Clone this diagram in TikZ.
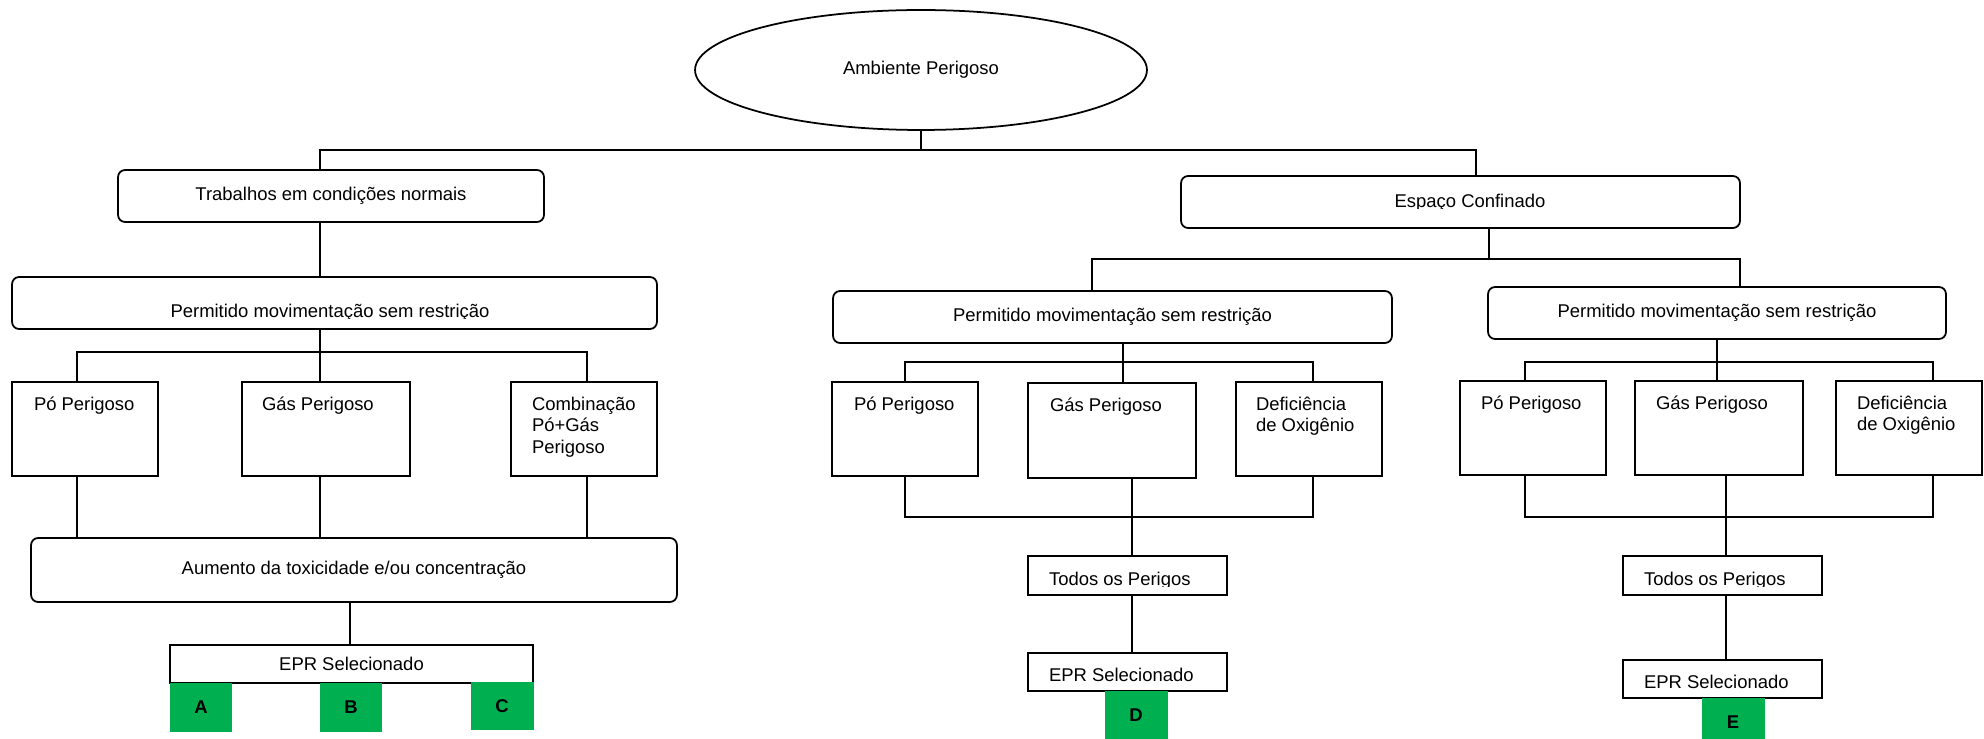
\documentclass[tikz,border=0pt]{standalone}
\usepackage{fontspec}
\setmainfont{Liberation Sans}
\usetikzlibrary{shapes.geometric}
\definecolor{epgreen}{RGB}{0,176,80}
\begin{document}
\begin{tikzpicture}[x=0.02cm,y=-0.02cm,line width=1pt,
  every node/.style={font=\fontsize{10.5}{12.2}\selectfont,inner sep=0pt,outer sep=0pt},
  rbox/.style 2 args={draw,rounded corners=4pt,minimum width=#1,minimum height=#2},
  sbox/.style 2 args={draw,minimum width=#1,minimum height=#2},
  hz/.style={anchor=north west,align=left},
  grn/.style={fill=epgreen,minimum width=1.26cm,minimum height=0.98cm,font=\fontsize{10.5}{12}\selectfont\bfseries}]
\clip (0,0) rectangle (1984,739);
% columns of the connectors
\coordinate (xL) at (320,0);  \coordinate (xLp) at (77,0);  \coordinate (xLc) at (587,0);
\coordinate (xLa) at (350,0); \coordinate (xE) at (1476,0); \coordinate (xE2) at (1489,0);
\coordinate (xM0) at (1092,0); \coordinate (xR0) at (1740,0); \coordinate (xM) at (1123,0);
\coordinate (xM2) at (1132,0); \coordinate (xRp) at (1525,0); \coordinate (xRd) at (1933,0);
\coordinate (xR) at (1726,0);  \coordinate (xMd) at (1313,0);
% top
\node[draw,ellipse,minimum width=9.04cm,minimum height=2.4cm] (amb) at (921,70) {Ambiente Perigoso};
\node[rbox={8.52cm}{1.04cm}] (trab) at (331,196) {Trabalhos em condições normais};
\node[rbox={11.18cm}{1.04cm}] (esp) at (1460.5,202) {};
\begin{scope} \clip (1181,176) rectangle (1740,209);
  \node[anchor=base] (esp-t) at (1470,208) {Espaço Confinado};
\end{scope}
% left branch
\node[rbox={12.9cm}{1.04cm}] (pl) at (334.5,303) {};
\begin{scope} \clip (12,277) rectangle (657,318.5);
  \node[anchor=base] (pl-t) at (330,318) {Permitido movimentação sem restrição};
\end{scope}
\node[sbox={2.92cm}{1.88cm}] (lpo) at (85,429) {};
\node[sbox={3.36cm}{1.88cm}] (lgas) at (326,429) {};
\node[sbox={2.92cm}{1.88cm}] (lcomb) at (584,429) {};
\node[hz] (lpo-t) at ([xshift=0.44cm,yshift=-0.3cm]lpo.north west) {Pó Perigoso};
\node[hz] (lgas-t) at ([xshift=0.4cm,yshift=-0.3cm]lgas.north west) {Gás Perigoso};
\node[hz] (lcomb-t) at ([xshift=0.42cm,yshift=-0.3cm]lcomb.north west) {Combinação\\Pó+Gás\\Perigoso};
\node[rbox={12.92cm}{1.28cm}] (aum) at (354,570) {Aumento da toxicidade e/ou concentração};
\node[sbox={7.26cm}{0.76cm}] (lepr) at (351.5,664) {EPR Selecionado};
% middle branch
\node[rbox={11.18cm}{1.04cm}] (pm) at (1112.5,317) {Permitido movimentação sem restrição};
\node[sbox={2.92cm}{1.88cm}] (mpo) at (905,429) {};
\node[sbox={3.36cm}{1.9cm}] (mgas) at (1112,430.5) {};
\node[sbox={2.92cm}{1.88cm}] (mdef) at (1309,429) {};
\node[hz] (mpo-t) at ([xshift=0.44cm,yshift=-0.3cm]mpo.north west) {Pó Perigoso};
\node[hz] (mgas-t) at ([xshift=0.44cm,yshift=-0.3cm]mgas.north west) {Gás Perigoso};
\node[hz] (mdef-t) at ([xshift=0.4cm,yshift=-0.3cm]mdef.north west) {Deficiência\\de Oxigênio};
\node[sbox={3.98cm}{0.78cm}] (mtodos) at (1127.5,575.5) {};
\node[sbox={3.98cm}{0.76cm}] (mepr) at (1127.5,672) {};
\begin{scope} \clip (1028,556) rectangle (1227,586);
  \node[anchor=base west] (mtodos-t) at (1049,585) {Todos os Perigos};
\end{scope}
\begin{scope} \clip (1028,653) rectangle (1227,682);
  \node[anchor=base west] (mepr-t) at (1049,681) {EPR Selecionado};
\end{scope}
% right branch
\node[rbox={9.16cm}{1.04cm}] (pr) at (1717,313) {Permitido movimentação sem restrição};
\node[sbox={2.92cm}{1.88cm}] (rpo) at (1533,428) {};
\node[sbox={3.36cm}{1.88cm}] (rgas) at (1719,428) {};
\node[sbox={2.92cm}{1.88cm}] (rdef) at (1909,428) {};
\node[hz] (rpo-t) at ([xshift=0.42cm,yshift=-0.3cm]rpo.north west) {Pó Perigoso};
\node[hz] (rgas-t) at ([xshift=0.42cm,yshift=-0.3cm]rgas.north west) {Gás Perigoso};
\node[hz] (rdef-t) at ([xshift=0.42cm,yshift=-0.3cm]rdef.north west) {Deficiência\\de Oxigênio};
\node[sbox={3.98cm}{0.78cm}] (rtodos) at (1722.5,575.5) {};
\node[sbox={3.98cm}{0.76cm}] (repr) at (1722.5,679) {};
\begin{scope} \clip (1623,556) rectangle (1822,586);
  \node[anchor=base west] (rtodos-t) at (1644,585) {Todos os Perigos};
\end{scope}
\begin{scope} \clip (1623,660) rectangle (1822,689);
  \node[anchor=base west] (repr-t) at (1644,688) {EPR Selecionado};
\end{scope}
% selected respirators
\foreach \n/\x/\y in {A/201/707.5,B/351/707.5,C/502/706,D/1136/715.5,E/1733/722.5}
  \node[grn] (sq\n) at (\x,\y) {\n};
% connectors
\coordinate (bus0) at (921,150);
\draw (amb.south) -- (bus0);
\draw (trab.north -| xL) |- (bus0) -| (esp.north -| xE);
\draw (trab.south -| xL) -- (pl.north -| xL);
\coordinate (lbus) at (320,352);
\draw (pl.south -| xL) -- (lgas.north -| xL);
\draw (lpo.north -| xLp) |- (lbus) -| (lcomb.north -| xLc);
\draw (lpo.south -| xLp) -- (aum.north -| xLp);
\draw (lgas.south -| xL) -- (aum.north -| xL);
\draw (lcomb.south -| xLc) -- (aum.north -| xLc);
\draw (aum.south -| xLa) -- (lepr.north -| xLa);
\coordinate (ebus) at (1489,259);
\draw (esp.south -| xE2) -- (ebus);
\draw (pm.north -| xM0) |- (ebus) -| (pr.north -| xR0);
\coordinate (mbus) at (1123,362);
\draw (pm.south -| xM) -- (mgas.north -| xM);
\draw (mpo.north) |- (mbus) -| (mdef.north -| xMd);
\coordinate (mbot) at (1132,517);
\draw (mpo.south) |- (mbot) -| (mdef.south -| xMd);
\draw (mgas.south -| xM2) -- (mtodos.north -| xM2);
\draw (mtodos.south -| xM2) -- (mepr.north -| xM2);
\coordinate (rbus) at (1717,362);
\draw (pr.south) -- (pr.south |- rgas.north);
\draw (rpo.north -| xRp) |- (rbus) -| (rdef.north -| xRd);
\coordinate (rbot) at (1726,517);
\draw (rpo.south -| xRp) |- (rbot) -| (rdef.south -| xRd);
\draw (rgas.south -| xR) -- (rtodos.north -| xR);
\draw (rtodos.south -| xR) -- (repr.north -| xR);
\end{tikzpicture}
\end{document}
